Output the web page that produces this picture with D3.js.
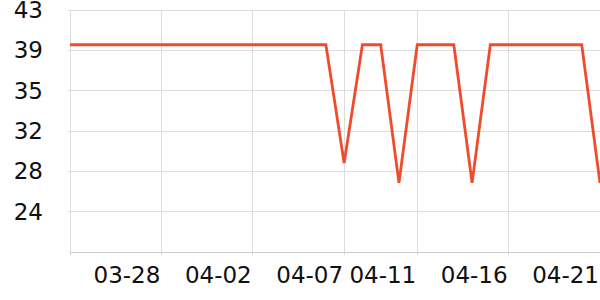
<!DOCTYPE html>
<html>
<head>
<meta charset="utf-8">
<script src="https://cdn.jsdelivr.net/npm/d3@7"></script>
<style>
  html, body { margin: 0; padding: 0; background: #fff; }
  svg { display: block; }
  text { font-family: "DejaVu Sans", sans-serif; }
</style>
</head>
<body>
<svg id="chart" width="600" height="300"></svg>
<script>
// Data
const dates = [
  "2024-03-23","2024-03-24","2024-03-25","2024-03-26","2024-03-27","2024-03-28",
  "2024-03-29","2024-03-30","2024-03-31","2024-04-01","2024-04-02","2024-04-03",
  "2024-04-04","2024-04-05","2024-04-06","2024-04-07","2024-04-08","2024-04-09",
  "2024-04-10","2024-04-11","2024-04-12","2024-04-13","2024-04-14","2024-04-15",
  "2024-04-16","2024-04-17","2024-04-18","2024-04-19","2024-04-20","2024-04-21"
];
const values = [
  39.8, 39.8, 39.8, 39.8, 39.8, 39.8,
  39.8, 39.8, 39.8, 39.8, 39.8, 39.8,
  39.8, 39.8, 39.8, 28.5, 39.8, 39.8,
  26.6, 39.8, 39.8, 39.8, 26.6, 39.8,
  39.8, 39.8, 39.8, 39.8, 39.8, 26.6
];
const xTickDates = ["2024-03-23","2024-03-28","2024-04-02","2024-04-07","2024-04-11","2024-04-16","2024-04-21"];
const xTickLabels = ["", "03-28", "04-02", "04-07", "04-11", "04-16", "04-21"];
const yMin = 20, yMax = 43.12;
const yTickCount = 6;

const parse = d3.utcParse("%Y-%m-%d");
const data = dates.map((d, i) => ({ date: parse(d), value: values[i] }));

const margin = { left: 70, right: 0, top: 10, bottom: 48 };
const W = 600, H = 300;
const svg = d3.select("#chart");

const x = d3.scaleUtc()
  .domain([parse(dates[0]), parse(dates[dates.length - 1])])
  .range([margin.left, W - margin.right]);
const y = d3.scaleLinear()
  .domain([yMin, yMax])
  .range([H - margin.bottom, margin.top]);

const yStep = (yMax - yMin) / yTickCount;
const yTicks = d3.range(1, yTickCount + 1).map(k => yMin + k * yStep);
const xTicks = xTickDates.map(parse);

const grid = "#dddddd";

// horizontal grid
svg.append("g").selectAll("line").data(yTicks).join("line")
  .attr("x1", margin.left - 2).attr("x2", W - margin.right)
  .attr("y1", d => y(d)).attr("y2", d => y(d))
  .attr("stroke", grid).attr("stroke-width", 1).attr("shape-rendering", "crispEdges");

// vertical grid
svg.append("g").selectAll("line").data(xTicks).join("line")
  .attr("x1", d => x(d)).attr("x2", d => x(d))
  .attr("y1", margin.top).attr("y2", H - margin.bottom + 3)
  .attr("stroke", grid).attr("stroke-width", 1).attr("shape-rendering", "crispEdges");

// x axis line
svg.append("line")
  .attr("x1", margin.left).attr("x2", W - margin.right)
  .attr("y1", y(yMin)).attr("y2", y(yMin))
  .attr("stroke", "#cccccc").attr("stroke-width", 1).attr("shape-rendering", "crispEdges");

// y labels
svg.append("g").selectAll("text").data(yTicks).join("text")
  .attr("x", 43).attr("y", d => y(d))
  .attr("dy", "0.35em")
  .attr("text-anchor", "end")
  .attr("font-size", 23)
  .attr("fill", "#111")
  .text(d => d3.format(".0f")(d));

// x labels
svg.append("g").selectAll("text").data(xTicks).join("text")
  .attr("x", (d) => x(d) - 1).attr("y", 283)
  .attr("text-anchor", "end")
  .attr("font-size", 23)
  .attr("fill", "#111")
  .text((d, i) => xTickLabels[i]);

// line
const line = d3.line().x(d => x(d.date)).y(d => y(d.value));
svg.append("path").datum(data)
  .attr("d", line)
  .attr("fill", "none")
  .attr("stroke", "#ef4b2d")
  .attr("stroke-width", 2.8)
  .attr("stroke-linejoin", "miter");
</script>
</body>
</html>
